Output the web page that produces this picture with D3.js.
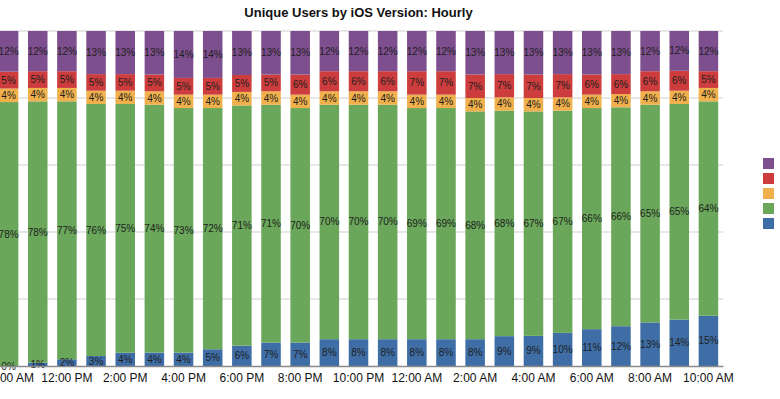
<!DOCTYPE html>
<html>
<head>
<meta charset="utf-8">
<script src="https://cdn.jsdelivr.net/npm/d3@7"></script>
<style>
  html, body { margin: 0; padding: 0; background: #fff; }
  svg { display: block; font-family: "Liberation Sans", Arial, Helvetica, sans-serif; }
</style>
</head>
<body>
<svg id="chart" width="780" height="399"></svg>
<script>
// ---- Data ----
const hours = ["10:00 AM","11:00 AM","12:00 PM","1:00 PM","2:00 PM","3:00 PM","4:00 PM","5:00 PM",
  "6:00 PM","7:00 PM","8:00 PM","9:00 PM","10:00 PM","11:00 PM","12:00 AM","1:00 AM","2:00 AM",
  "3:00 AM","4:00 AM","5:00 AM","6:00 AM","7:00 AM","8:00 AM","9:00 AM","10:00 AM "];
const seriesNames = ["v1", "v2", "v3", "v4", "v5"]; // bottom to top
const blueValues   = [0,1,2,3,4,4,4,5,6,7,7,8,8,8,8,8,8,9,9,10,11,12,13,14,15];
const greenValues  = [78,78,77,76,75,74,73,72,71,71,70,70,70,70,69,69,68,68,67,67,66,66,65,65,64];
const orangeValues = [4,4,4,4,4,4,4,4,4,4,4,4,4,4,4,4,4,4,4,4,4,4,4,4,4];
const redValues    = [5,5,5,5,5,5,5,5,5,5,6,6,6,6,7,7,7,7,7,7,6,6,6,6,5];
const purpleValues = [12,12,12,13,13,13,14,14,13,13,13,12,12,12,12,12,13,13,13,13,13,13,12,12,12];
const yTicks = [0, 0.2, 0.4, 0.6, 0.8, 1];
const titleText = "Unique Users by iOS Version: Hourly";

const colors = ["#3f6ea6", "#6aa75a", "#f0b04c", "#cd3d3d", "#7e4f8e"];
const valueArrays = [blueValues, greenValues, orangeValues, redValues, purpleValues];

const rows = hours.map((h, i) => {
  const r = { hour: h };
  seriesNames.forEach((s, k) => r[s] = valueArrays[k][i]);
  return r;
});

// ---- Layout ----
const svg = d3.select("#chart");
const plotLeft = -6, plotRight = 723, plotTop = 31, plotBottom = 366;

const x = d3.scaleBand().domain(hours).range([plotLeft, plotRight]).paddingInner(0.33).paddingOuter(0.165);
const y = d3.scaleLinear().domain([0, 1]).range([plotBottom, plotTop]);

const stack = d3.stack().keys(seriesNames).offset(d3.stackOffsetExpand);
const stacked = stack(rows);

// gridlines
svg.append("g")
  .selectAll("line")
  .data(yTicks.filter(t => t > 0))
  .join("line")
  .attr("x1", plotLeft).attr("x2", plotRight)
  .attr("y1", d => y(d)).attr("y2", d => y(d))
  .attr("stroke", "#cfcfcf").attr("stroke-width", 1);

// bars
const layers = svg.append("g").selectAll("g")
  .data(stacked)
  .join("g")
  .attr("fill", (d, i) => colors[i]);

layers.selectAll("rect")
  .data(d => d)
  .join("rect")
  .attr("x", d => x(d.data.hour))
  .attr("width", x.bandwidth())
  .attr("y", d => y(d[1]))
  .attr("height", d => Math.max(0, y(d[0]) - y(d[1])));

// labels
const labelG = svg.append("g")
  .attr("font-size", 10)
  .attr("fill", "#1e1e1e")
  .attr("text-anchor", "middle");

stacked.forEach((layer) => {
  labelG.selectAll(null)
    .data(layer)
    .join("text")
    .attr("x", d => x(d.data.hour) + x.bandwidth() / 2)
    .attr("y", d => (y(d[0]) + y(d[1])) / 2)
    .attr("dy", "0.35em")
    .text(d => d.data[layer.key] + "%");
});

// x axis
const xAxis = d3.axisBottom(x)
  .tickValues(hours.filter((h, i) => i % 2 === 0))
  .tickSize(0)
  .tickPadding(7);

const axisG = svg.append("g")
  .attr("transform", `translate(0,${plotBottom})`)
  .call(xAxis);
axisG.select(".domain").attr("stroke", "#8a8a8a").attr("stroke-width", 1.5);
axisG.selectAll("text")
  .attr("font-size", 12)
  .attr("font-family", "'Liberation Sans', Arial, Helvetica, sans-serif")
  .attr("fill", "#111");

// title
svg.append("text")
  .attr("x", (plotLeft + plotRight) / 2)
  .attr("y", 17)
  .attr("text-anchor", "middle")
  .attr("font-size", 13)
  .attr("font-weight", "bold")
  .attr("fill", "#111")
  .text(titleText);

// legend (labels fall outside the visible area; swatches only)
const legend = svg.append("g").attr("transform", "translate(763,158)");
const legendOrder = [...seriesNames].reverse();
legend.selectAll("rect")
  .data(legendOrder)
  .join("rect")
  .attr("x", 0)
  .attr("y", (d, i) => i * 15)
  .attr("width", 11)
  .attr("height", 11)
  .attr("fill", d => colors[seriesNames.indexOf(d)]);
</script>
</body>
</html>
